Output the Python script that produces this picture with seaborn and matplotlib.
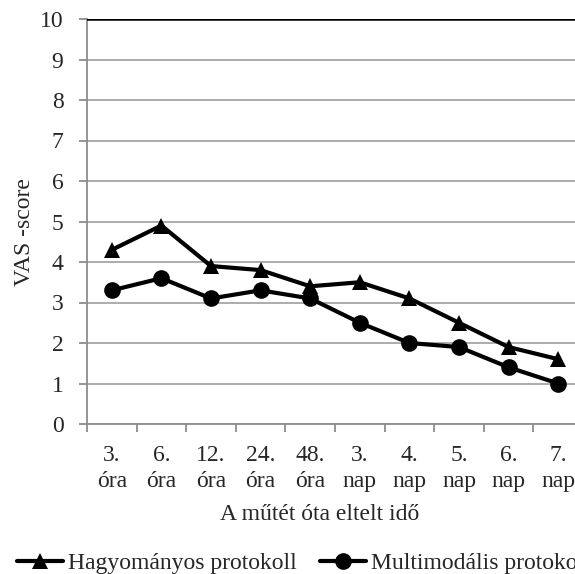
import matplotlib
matplotlib.use("Agg")
import matplotlib.pyplot as plt
import seaborn as sns
import pandas as pd
from matplotlib.lines import Line2D

categories = ["3.\nóra", "6.\nóra", "12.\nóra", "24.\nóra", "48.\nóra",
              "3.\nnap", "4.\nnap", "5.\nnap", "6.\nnap", "7.\nnap"]
hagyomanyos = [4.3, 4.9, 3.9, 3.8, 3.4, 3.5, 3.1, 2.5, 1.9, 1.6]
multimodalis = [3.3, 3.6, 3.1, 3.3, 3.1, 2.5, 2.0, 1.9, 1.4, 1.0]
series_names = ["Hagyományos protokoll", "Multimodális protokoll"]

sns.set_theme(style="white")
plt.rcParams['font.family'] = ['Liberation Serif', 'DejaVu Serif']
FS = 17

rows = []
for i, c in enumerate(categories):
    rows.append({"x": i, "y": hagyomanyos[i], "s": series_names[0]})
    rows.append({"x": i, "y": multimodalis[i], "s": series_names[1]})
df = pd.DataFrame(rows)

fig = plt.figure(figsize=(5.75, 5.74), dpi=100)
ax = fig.add_axes([87/575, 1-424/574, 496/575, (424-19)/574])

sns.lineplot(data=df, x="x", y="y", hue="s", style="s",
             palette={series_names[0]: "black", series_names[1]: "black"},
             markers={series_names[0]: "^", series_names[1]: "o"},
             dashes=False, linewidth=3, markersize=12, markeredgewidth=0,
             ax=ax, legend=False)

ax.set_xlim(-0.5, 9.5)
ax.set_ylim(0, 10)
ax.set_yticks(range(0, 11))
ax.grid(axis="y", color="#a6a6a6", linewidth=1.3)
ax.axhline(10, color="black", linewidth=1.8, zorder=3)
for sp in ["top", "right"]:
    ax.spines[sp].set_visible(False)
for sp in ["left", "bottom"]:
    ax.spines[sp].set_color("#8c8c8c")
    ax.spines[sp].set_linewidth(1.3)

ax.set_xticks(range(len(categories)))
ax.set_xticklabels(categories, fontsize=FS, linespacing=1.3)
ax.set_xticks([i - 0.5 for i in range(len(categories) + 1)], minor=True)
ax.tick_params(axis="x", which="major", length=0, pad=15)
ax.tick_params(axis="x", which="minor", length=6, width=1.3, color="#8c8c8c", direction="out")
ax.tick_params(axis="y", length=6, width=1.3, color="#8c8c8c", direction="out", labelsize=FS, pad=11)
ax.tick_params(axis="both", which="both", bottom=True, left=True)

ax.set_xlabel("A műtét óta eltelt idő", fontsize=FS)
ax.set_ylabel("VAS -score", fontsize=FS)
ax.yaxis.set_label_coords(-0.105, 0.474)
ax.xaxis.set_label_coords(0.47, -0.197)

handles = [Line2D([], [], color="black", marker="^", linewidth=3, markersize=12, markeredgewidth=0),
           Line2D([], [], color="black", marker="o", linewidth=3, markersize=12, markeredgewidth=0)]
fig.legend(handles, series_names, loc="center left", bbox_to_anchor=(17/575, 1-563/574),
           ncol=2, frameon=False, fontsize=FS, handlelength=1.95, handletextpad=0.2,
           columnspacing=1.0, borderaxespad=0, borderpad=0)

fig.savefig("out.png", dpi=100)
